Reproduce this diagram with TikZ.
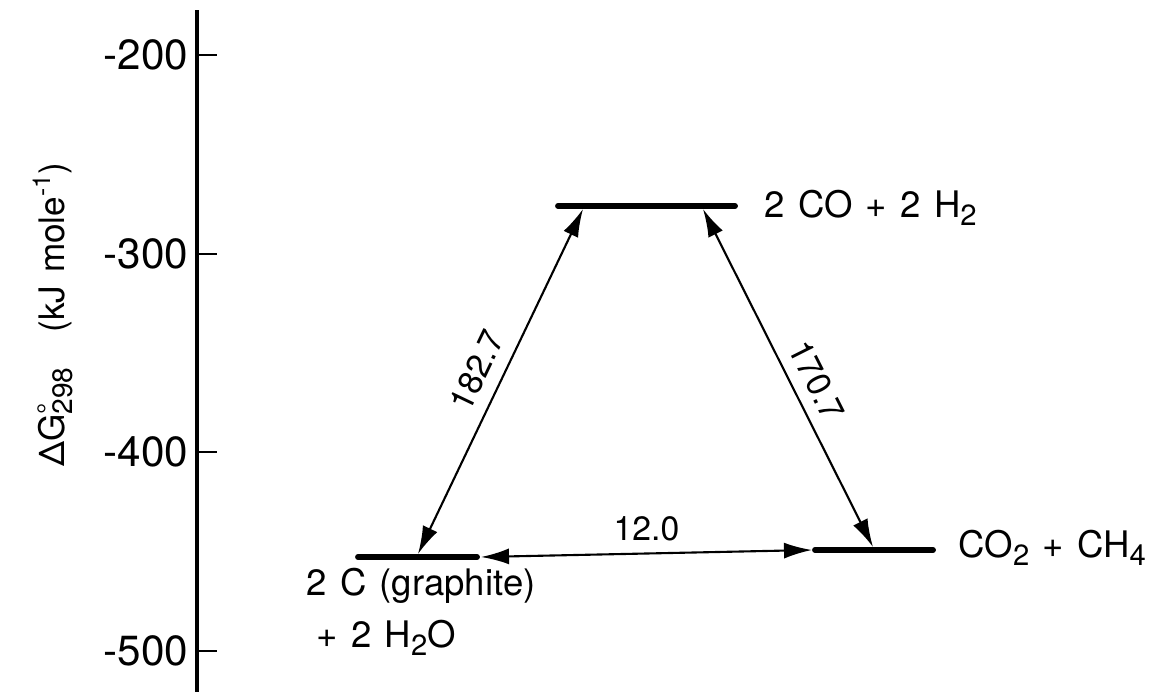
\documentclass[tikz,border=0pt]{standalone}
\usepackage{fontspec}
\setmainfont[WordSpace=1.3]{TeX Gyre Heros}
\usepackage{graphicx}
\usetikzlibrary{arrows.meta}
\newcommand{\lowsub}[1]{\raisebox{-0.45ex}{\scalebox{0.8}{#1}}}
\newcommand{\highsup}[1]{\raisebox{0.75ex}{\scalebox{0.7}{#1}}}

\begin{document}
\begin{tikzpicture}[x=0.025cm,y=-0.025cm,>={Latex[length=0.7cm,width=0.4cm]},
  level/.style={line width=4.2pt,line cap=round},
  link/.style={<->,line width=1.5pt},
  every node/.style={inner sep=1pt,font=\fontsize{26}{30}\selectfont}]
  \useasboundingbox (0,0) rectangle (1160,692);
  % energy axis
  \draw[line width=2.2pt] (197,10) -- (197,692);
  \foreach \v/\y in {200/55,300/254,400/452,500/651} {
    \draw[line width=1.8pt] (197,\y) -- (217,\y);
    \node[anchor=east,font=\fontsize{30}{34}\selectfont] (tick\v) at (190,\y) {-\v};
  }
  \node[rotate=90,anchor=base,font=\fontsize{25}{30}\selectfont] (ylab) at (64,315)
    {ΔG\rlap{\raisebox{0.35ex}{\scalebox{0.8}{°}}}\lowsub{298}\quad(kJ mole\highsup{-1})};
  % levels
  \coordinate (syn-l) at (558,206);
  \coordinate (syn-r) at (735,206);
  \coordinate (gr-l) at (358,557);
  \coordinate (gr-r) at (477,557);
  \coordinate (me-l) at (815,550);
  \coordinate (me-r) at (933,550);
  \draw[level] (syn-l) -- (syn-r);
  \draw[level] (gr-l) -- (gr-r);
  \draw[level] (me-l) -- (me-r);
  \node[anchor=base west] (syn) at (763,217) {2 CO + 2 H\lowsub{2}};
  \node[anchor=base west] (gr) at (305,595) {2 C (graphite)};
  \node[anchor=base west] (gr2) at (315,647) {+ 2 H\lowsub{2}O};
  \node[anchor=base west] (me) at (957,557) {CO\lowsub{2} + CH\lowsub{4}};
  % transitions
  \coordinate (gr-up) at (418,554);
  \coordinate (syn-dl) at (583,209);
  \coordinate (syn-dr) at (703,209);
  \coordinate (me-up) at (873,547);
  \coordinate (gr-end) at (481,557);
  \coordinate (me-end) at (812,550);
  \draw[link] (gr-up) -- node[sloped,above=8pt,font=\fontsize{24}{28}\selectfont] (l1) {182.7} (syn-dl);
  \draw[link] (syn-dr) -- node[sloped,above=7pt,pos=0.54,font=\fontsize{24}{28}\selectfont] (l2) {170.7} (me-up);
  \draw[link] (gr-end) -- node[above=7pt,font=\fontsize{24}{28}\selectfont] (l3) {12.0} (me-end);
\end{tikzpicture}
\end{document}
